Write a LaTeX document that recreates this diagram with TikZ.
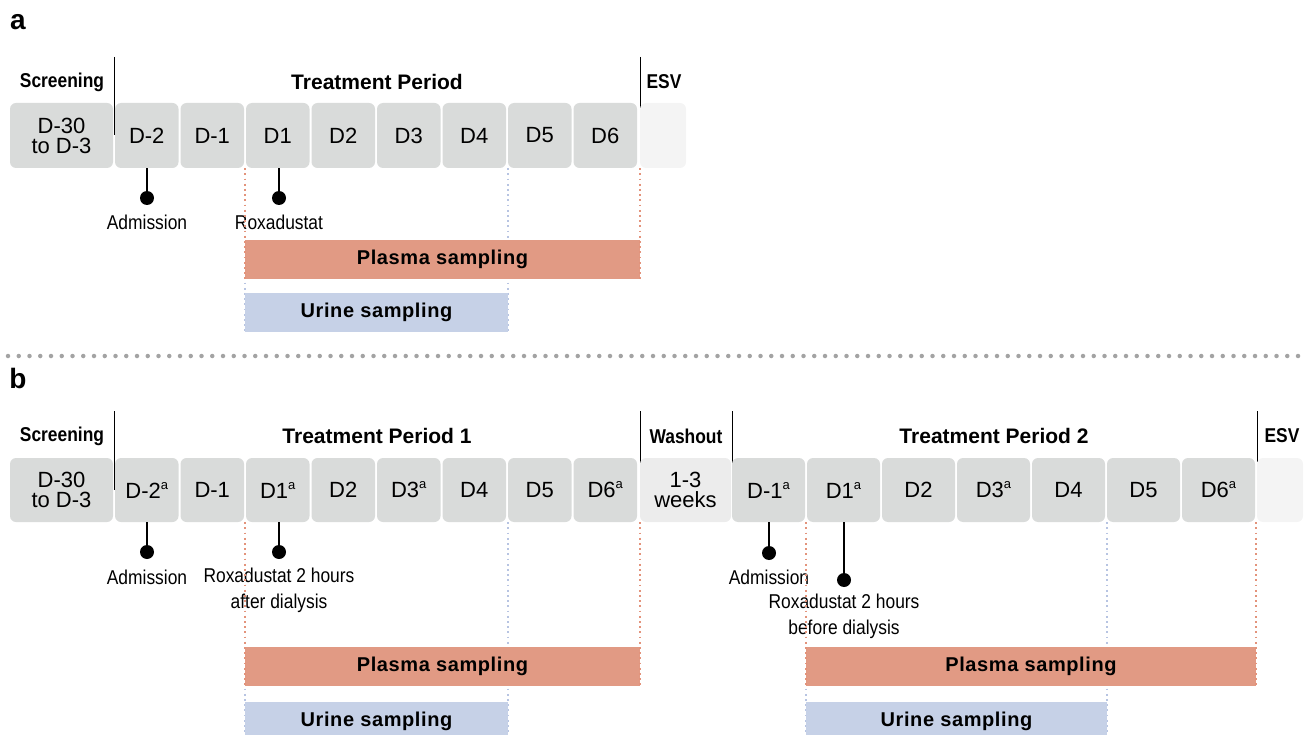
\documentclass[tikz,border=0pt]{standalone}
\usepackage{fontspec}
\setmainfont{Liberation Sans}
\newfontfamily\narrowfont[FakeStretch=0.87]{Liberation Sans}
\newfontfamily\spacedfont[LetterSpace=3]{Liberation Sans}

\definecolor{boxgray}{HTML}{D9DBDA}
\definecolor{washgray}{HTML}{ECECEC}
\definecolor{esvgray}{HTML}{F4F4F4}
\definecolor{plasmacol}{HTML}{E19A84}
\definecolor{urinecol}{HTML}{C6D1E7}
\definecolor{dotredcol}{HTML}{E3937B}
\definecolor{dotbluecol}{HTML}{B7C4E2}
\definecolor{sepgray}{HTML}{A3A3A3}

\newcommand{\supa}{\raisebox{9pt}{\fontsize{13}{13}\selectfont a}}

\tikzset{
  panel/.style={inner sep=0pt, font=\fontsize{28}{28}\selectfont\bfseries},
  phase/.style={inner sep=0pt, font=\fontsize{20}{20}\selectfont\narrowfont\bfseries},
  period/.style={inner sep=0pt, font=\fontsize{21}{21}\selectfont\bfseries},
  daybox/.style={fill=boxgray, rounded corners=6pt, minimum width=63.5pt,
    minimum height=65pt, inner sep=0pt, align=center,
    font=\fontsize{22}{20}\selectfont},
  daybox2/.style={daybox, minimum width=73pt, minimum height=64pt},
  dot/.style={circle, fill=black, inner sep=0pt, minimum size=14pt},
  stem/.style={line width=1.8pt},
  note/.style={inner sep=0pt, align=center, font=\fontsize{20}{26}\selectfont\narrowfont},
  plasmabar/.style={fill=plasmacol, minimum height=39pt, inner sep=0pt,
    font=\fontsize{20}{20}\selectfont\spacedfont\bfseries},
  urinebar/.style={plasmabar, fill=urinecol},
  dotred/.style={draw=dotredcol, line width=1.8pt, dash pattern=on 1.8pt off 3.4pt},
  dotblue/.style={draw=dotbluecol, line width=1.8pt, dash pattern=on 1.8pt off 3.4pt},
  border/.style={line width=0.8pt}
}

\begin{document}
\begin{tikzpicture}[x=1pt, y=-1pt]
  \useasboundingbox (0,0) rectangle (1311,735);

  % Panel labels
  \node[panel] (pa) at (18,22) {a};
  \node[panel] (pb) at (18,378) {b};

  %%%%%%%%%%%%%%%%%%%%%%%% Panel a %%%%%%%%%%%%%%%%%%%%%%%%

  % Draw phase headers
  \node[phase] (ascr) at (62,82) {Screening};
  \node[period] (atrt) at (377,82) {Treatment Period};
  \node[phase] (aesv) at (664,82) {ESV};

  % Draw phase borders
  \coordinate (ab1t) at (114,57);
  \coordinate (ab1b) at (114,135);
  \coordinate (ab2t) at (640,57);
  \coordinate (ab2b) at (640,135);
  \draw[border] (ab1t) -- (ab1b);
  \draw[border] (ab2t) -- (ab2b);

  % Draw day boxes
  \node[daybox, minimum width=103pt] (ascrbox) at (61.5,135.5) {D-30\\to D-3};
  \node[daybox] (adm2) at (146.75,135.5) {D-2};
  \node[daybox] (adm1) at (212.25,135.5) {D-1};
  \node[daybox] (ad1) at (277.75,135.5) {D1};
  \node[daybox] (ad2) at (343.25,135.5) {D2};
  \node[daybox] (ad3) at (408.75,135.5) {D3};
  \node[daybox] (ad4) at (474.25,135.5) {D4};
  \node[daybox] (ad5) at (539.75,135.5) {D5};
  \node[daybox] (ad6) at (605.25,135.5) {D6};
  \node[daybox, fill=esvgray, minimum width=46pt] (aesvbox) at (663,135.5) {};

  % Draw events
  \node[dot] (aadm) at (147,198) {};
  \node[dot] (aroxa) at (279,198) {};
  \draw[stem] (aadm) -- (aadm |- adm2.south);
  \draw[stem] (aroxa) -- (aroxa |- ad1.south);
  \node[note] (aadmtxt) at (147,222) {Admission};
  \node[note] (aroxatxt) at (279,222) {Roxadustat};

  % Draw urine limits (behind the bars)
  \coordinate (auw) at (245,332);
  \coordinate (aue) at (508,332);
  \draw[dotblue] (auw |- ad1.south) -- (auw);
  \draw[dotblue] (aue |- ad1.south) -- (aue);

  % Draw sampling bars
  \node[plasmabar, minimum width=395pt] (aplasma) at (442.5,259.5) {Plasma sampling};
  \node[urinebar, minimum width=263pt] (aurine) at (376.5,312.5) {Urine sampling};

  % Draw plasma limits
  \draw[dotred] (aplasma.north west |- ad1.south) -- (aplasma.south west);
  \draw[dotred] (aplasma.north east |- ad1.south) -- (aplasma.south east);

  % Draw the separator
  \coordinate (sepl) at (8,356);
  \coordinate (sepr) at (1305,356);
  \draw[sepgray, line width=4.5pt, line cap=round, dash pattern=on 0pt off 10.75pt] (sepl) -- (sepr);

  %%%%%%%%%%%%%%%%%%%%%%%% Panel b %%%%%%%%%%%%%%%%%%%%%%%%

  % Draw phase headers
  \node[phase] (bscr) at (62,436) {Screening};
  \node[period] (btrt1) at (377,436) {Treatment Period 1};
  \node[phase] (bwash) at (686,436) {Washout};
  \node[period] (btrt2) at (994,436) {Treatment Period 2};
  \node[phase] (besv) at (1282,436) {ESV};

  % Draw phase borders
  \coordinate (bb1t) at (114,411);
  \coordinate (bb1b) at (114,490);
  \coordinate (bb2t) at (640,411);
  \coordinate (bb2b) at (640,463);
  \coordinate (bb3t) at (732,411);
  \coordinate (bb3b) at (732,489);
  \coordinate (bb4t) at (1257,411);
  \coordinate (bb4b) at (1257,462);
  \draw[border] (bb1t) -- (bb1b);
  \draw[border] (bb2t) -- (bb2b);
  \draw[border] (bb3t) -- (bb3b);
  \draw[border] (bb4t) -- (bb4b);

  % Draw day boxes of period 1
  \node[daybox, minimum width=103pt, minimum height=64pt] (bscrbox) at (61.5,490) {D-30\\to D-3};
  \node[daybox, minimum height=64pt] (bdm2) at (146.75,490) {D-2\supa};
  \node[daybox, minimum height=64pt] (bdm1) at (212.25,490) {D-1};
  \node[daybox, minimum height=64pt] (bd1) at (277.75,490) {D1\supa};
  \node[daybox, minimum height=64pt] (bd2) at (343.25,490) {D2};
  \node[daybox, minimum height=64pt] (bd3) at (408.75,490) {D3\supa};
  \node[daybox, minimum height=64pt] (bd4) at (474.25,490) {D4};
  \node[daybox, minimum height=64pt] (bd5) at (539.75,490) {D5};
  \node[daybox, minimum height=64pt] (bd6) at (605.25,490) {D6\supa};

  % Draw washout box
  \node[daybox, fill=washgray, minimum width=91pt, minimum height=64pt] (bwashbox) at (685.5,490) {1-3\\weeks};

  % Draw day boxes of period 2
  \node[daybox2] (cdm1) at (768.5,490) {D-1\supa};
  \node[daybox2] (cd1) at (843.5,490) {D1\supa};
  \node[daybox2] (cd2) at (918.5,490) {D2};
  \node[daybox2] (cd3) at (993.5,490) {D3\supa};
  \node[daybox2] (cd4) at (1068.5,490) {D4};
  \node[daybox2] (cd5) at (1143.5,490) {D5};
  \node[daybox2] (cd6) at (1218.5,490) {D6\supa};
  \node[daybox, fill=esvgray, minimum width=46pt, minimum height=64pt] (besvbox) at (1280,490) {};

  % Draw events
  \node[dot] (badm) at (147,552) {};
  \node[dot] (broxa) at (279,552) {};
  \node[dot] (cadm) at (769,553) {};
  \node[dot] (croxa) at (844,580) {};
  \draw[stem] (badm) -- (badm |- bdm2.south);
  \draw[stem] (broxa) -- (broxa |- bd1.south);
  \draw[stem] (cadm) -- (cadm |- cdm1.south);
  \draw[stem] (croxa) -- (croxa |- cd1.south);
  \node[note] (badmtxt) at (147,577) {Admission};
  \node[note] (broxatxt) at (279,590) {Roxadustat 2 hours\\after dialysis};
  \node[note] (cadmtxt) at (769,577) {Admission};
  \node[note] (croxatxt) at (844,616) {Roxadustat 2 hours\\before dialysis};

  % Draw urine limits (behind the bars)
  \coordinate (buw) at (245,735);
  \coordinate (bue) at (508,735);
  \coordinate (cuw) at (806,735);
  \coordinate (cue) at (1107,735);
  \draw[dotblue] (buw |- bd1.south) -- (buw);
  \draw[dotblue] (bue |- bd1.south) -- (bue);
  \draw[dotblue] (cuw |- cd1.south) -- (cuw);
  \draw[dotblue] (cue |- cd1.south) -- (cue);

  % Draw sampling bars
  \node[plasmabar, minimum width=395pt] (bplasma) at (442.5,666.5) {Plasma sampling};
  \node[urinebar, minimum width=263pt] (burine) at (376.5,721) {Urine sampling};
  \node[plasmabar, minimum width=450pt] (cplasma) at (1031,666.5) {Plasma sampling};
  \node[urinebar, minimum width=301pt] (curine) at (956.5,721) {Urine sampling};

  % Draw plasma limits
  \draw[dotred] (bplasma.north west |- bd1.south) -- (bplasma.south west);
  \draw[dotred] (bplasma.north east |- bd1.south) -- (bplasma.south east);
  \draw[dotred] (cplasma.north west |- cd1.south) -- (cplasma.south west);
  \draw[dotred] (cplasma.north east |- cd1.south) -- (cplasma.south east);
\end{tikzpicture}
\end{document}
